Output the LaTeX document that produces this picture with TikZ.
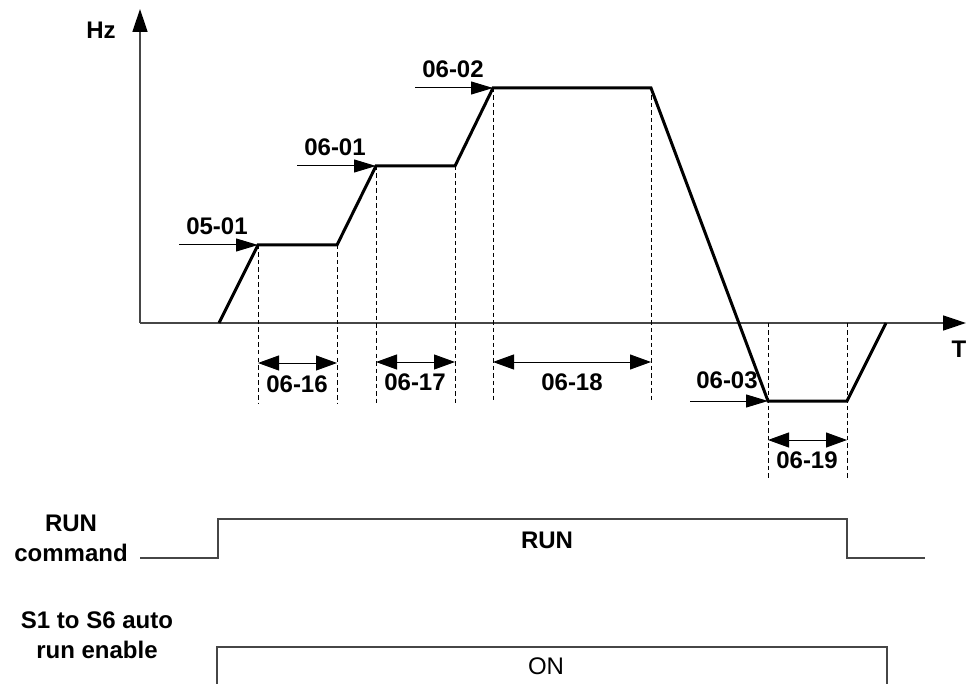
\documentclass[tikz,border=0pt]{standalone}
\usepackage{fontspec}
\setmainfont{Liberation Sans}
\usetikzlibrary{arrows.meta}
\definecolor{axisgray}{RGB}{70,70,70}
\begin{document}
\begin{tikzpicture}[x=1pt,y=-1pt,
  axisline/.style={draw=axisgray,line width=1.4pt},
  bigtip/.style={-{Triangle[length=23pt,width=15pt,color=black]}},
  levelarrow/.style={draw=black,line width=1pt,-{Triangle[length=22pt,width=13pt]}},
  dimarrow/.style={draw=black,line width=1pt,{Triangle[length=21pt,width=15pt]}-{Triangle[length=21pt,width=15pt]}},
  guide/.style={draw=black,line width=1pt,dash pattern=on 4.5pt off 3pt},
  profile/.style={draw=black,line width=3pt,line join=miter},
  signal/.style={draw=axisgray,line width=1.4pt},
  lbl/.style={font=\fontsize{24}{30}\selectfont\bfseries,inner sep=0pt,align=center},
  plainlbl/.style={font=\fontsize{24}{30}\selectfont,inner sep=0pt}]
\useasboundingbox (0,0) rectangle (966,684);

% axes
\coordinate (O) at (140,323);
\coordinate (ytop) at (140,9);
\coordinate (xend) at (966,323);
\draw[axisline,bigtip] (O) -- (ytop);
\draw[axisline,bigtip] (O) -- (xend);
\node[lbl] (hz) at (101,30) {Hz};
\node[lbl] (tlab) at (959,349) {T};

% profile points
\coordinate (p0) at (219,323);
\coordinate (p1) at (258,245);
\coordinate (p2) at (337,245);
\coordinate (p3) at (376,166);
\coordinate (p4) at (455,166);
\coordinate (p5) at (493,88);
\coordinate (p6) at (651,88);
\coordinate (p7) at (768,401);
\coordinate (p8) at (847,401);
\coordinate (p9) at (886,323);

% dashed guides
\coordinate (g1) at (258,403);
\coordinate (g2) at (337,403);
\coordinate (g3) at (376,403);
\coordinate (g4) at (455,403);
\coordinate (g5) at (493,403);
\coordinate (g6) at (651,403);
\coordinate (g7t) at (768,323);
\coordinate (g7) at (768,480);
\coordinate (g8t) at (847,323);
\coordinate (g8) at (847,480);
\draw[guide] (p1) -- (g1);
\draw[guide] (p2) -- (g2);
\draw[guide] (p3) -- (g3);
\draw[guide] (p4) -- (g4);
\draw[guide] (p5) -- (g5);
\draw[guide] (p6) -- (g6);
\draw[guide] (g7t) -- (g7);
\draw[guide] (g8t) -- (g8);

\draw[profile] (p0) -- (p1) -- (p2) -- (p3) -- (p4) -- (p5) -- (p6) -- (p7) -- (p8) -- (p9);

% level arrows
\coordinate (s1) at (179,245);
\coordinate (s2) at (297,166);
\coordinate (s3) at (415,88);
\coordinate (s4) at (690,401);
\draw[levelarrow] (s1) -- (p1);
\draw[levelarrow] (s2) -- (p3);
\draw[levelarrow] (s3) -- (p5);
\draw[levelarrow] (s4) -- (p7);
\node[lbl] (l0501) at (217,226) {05-01};
\node[lbl] (l0601) at (335,147) {06-01};
\node[lbl] (l0602) at (453,69) {06-02};
\node[lbl] (l0603) at (727,380) {06-03};

% dimension arrows
\coordinate (d1a) at (258,363);
\coordinate (d1b) at (337,363);
\coordinate (d2a) at (376,362);
\coordinate (d2b) at (455,362);
\coordinate (d3a) at (493,362);
\coordinate (d3b) at (651,362);
\coordinate (d4a) at (768,440);
\coordinate (d4b) at (847,440);
\draw[dimarrow] (d1a) -- (d1b);
\draw[dimarrow] (d2a) -- (d2b);
\draw[dimarrow] (d3a) -- (d3b);
\draw[dimarrow] (d4a) -- (d4b);
\node[lbl] (l0616) at (297,384) {06-16};
\node[lbl] (l0617) at (415,382) {06-17};
\node[lbl] (l0618) at (572,382) {06-18};
\node[lbl] (l0619) at (807,460) {06-19};

% RUN command
\node[lbl] (runcmd) at (71,538) {RUN\\command};
\coordinate (r0) at (140,558);
\coordinate (r1) at (218,558);
\coordinate (r2) at (218,519);
\coordinate (r3) at (847,519);
\coordinate (r4) at (847,558);
\coordinate (r5) at (925,558);
\draw[signal] (r0) -- (r1) -- (r2) -- (r3) -- (r4) -- (r5);
\node[lbl] (runtxt) at (547,540) {RUN};

% auto run enable
\node[lbl] (autorun) at (97,635) {S1 to S6 auto\\run enable};
\coordinate (e0) at (217,684);
\coordinate (e1) at (217,647);
\coordinate (e2) at (887,647);
\coordinate (e3) at (887,684);
\draw[signal] (e0) -- (e1) -- (e2) -- (e3);
\node[plainlbl] (ontxt) at (546,666) {ON};
\end{tikzpicture}
\end{document}
